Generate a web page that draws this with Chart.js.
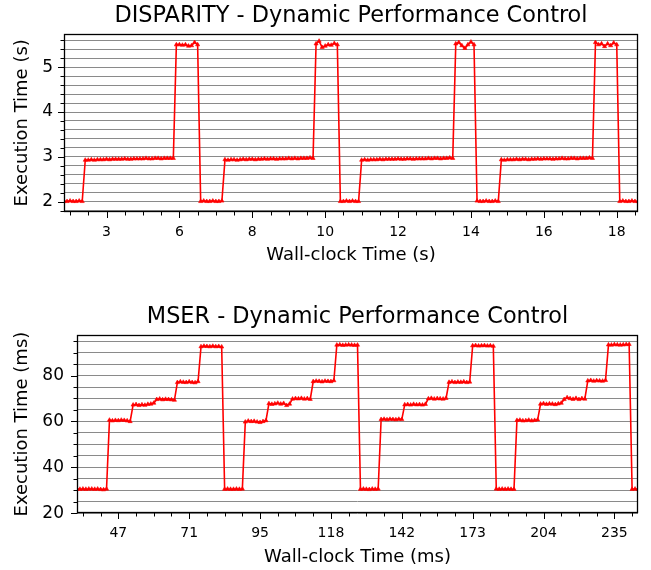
<!DOCTYPE html>
<html>
<head>
<meta charset="utf-8">
<script src="https://cdn.jsdelivr.net/npm/chart.js@4.4.0/dist/chart.umd.min.js"></script>
<style>
  body { margin: 0; background: #fff; }
  canvas { display: block; }
</style>
</head>
<body>
<canvas id="disparityChart" width="651" height="285"></canvas>
<canvas id="mserChart" width="651" height="285"></canvas>
<script>
// x is the sample index; the tick labels are the wall-clock times at those samples
const disparityTickIdx = [14, 38, 62, 86, 110, 134, 158, 182];
const disparityTickLabels = ['3', '6', '8', '10', '12', '14', '16', '18'];
const disparityYMajor = [2, 3, 4, 5];

const disparityTimes = [
    2.01, 2.01, 2.02, 2.01, 2.01, 2.02, 2.01,
    2.93, 2.93, 2.94, 2.93, 2.94, 2.94, 2.94, 2.95, 2.94, 2.95,
    2.95, 2.95, 2.95, 2.96, 2.95, 2.95, 2.96, 2.96, 2.96, 2.96,
    2.97, 2.96, 2.96, 2.97, 2.97, 2.96, 2.97, 2.97, 2.97, 2.97,
    5.50, 5.50, 5.49, 5.50, 5.47, 5.48, 5.55, 5.50,
    2.01, 2.02, 2.01, 2.01, 2.02, 2.01, 2.01, 2.02,
    2.94, 2.93, 2.94, 2.94, 2.93, 2.94, 2.95, 2.94, 2.95, 2.95,
    2.94, 2.95, 2.95, 2.96, 2.95, 2.96, 2.96, 2.95, 2.96, 2.96,
    2.96, 2.97, 2.96, 2.97, 2.96, 2.97, 2.97, 2.97, 2.98, 2.97,
    5.52, 5.58, 5.44, 5.47, 5.50, 5.49, 5.53, 5.50,
    2.01, 2.01, 2.02, 2.01, 2.02, 2.01, 2.01,
    2.93, 2.94, 2.93, 2.94, 2.94, 2.94, 2.95, 2.94, 2.95, 2.95,
    2.95, 2.95, 2.96, 2.95, 2.95, 2.96, 2.96, 2.95, 2.96, 2.96,
    2.96, 2.96, 2.97, 2.96, 2.97, 2.97, 2.96, 2.97, 2.97, 2.98, 2.97,
    5.52, 5.55, 5.48, 5.42, 5.50, 5.56, 5.50,
    2.02, 2.01, 2.01, 2.02, 2.01, 2.01, 2.02, 2.01,
    2.94, 2.93, 2.94, 2.94, 2.94, 2.95, 2.94, 2.95, 2.95, 2.94,
    2.95, 2.95, 2.96, 2.95, 2.96, 2.96, 2.96, 2.95, 2.96, 2.96,
    2.97, 2.96, 2.96, 2.97, 2.97, 2.96, 2.97, 2.97, 2.97, 2.98, 2.97,
    5.55, 5.50, 5.52, 5.46, 5.52, 5.48, 5.54, 5.50,
    2.01, 2.02, 2.01, 2.01, 2.02, 2.01, 2.01
];

const mserTickIdx = [14, 38, 62, 86, 110, 134, 158, 182];
const mserTickLabels = ['47', '71', '95', '118', '142', '173', '204', '235'];
const mserYMajor = [20, 40, 60, 80];

const mserTimes = [
    // period 1
    30.6, 30.5, 30.6, 30.5, 30.6, 30.6, 30.5, 30.6, 30.4, 30.3, 30.6,
    60.6, 60.3, 60.5, 60.4, 60.6, 60.5, 60.3, 60.0,
    67.2, 67.4, 67.0, 67.3, 67.1, 67.5, 67.6, 68.0,
    69.6, 69.8, 69.5, 69.7, 69.6, 69.5, 69.3,
    77.0, 77.3, 77.1, 77.0, 77.3, 77.0, 76.9, 77.4,
    92.6, 92.8, 92.7, 92.6, 92.8, 92.6, 92.7, 92.5,
    // period 2
    30.5, 30.6, 30.5, 30.5, 30.6, 30.5, 30.6,
    59.8, 60.2, 60.0, 60.1, 59.8, 59.6, 60.0, 60.4,
    67.8, 67.5, 67.7, 68.0, 67.6, 67.9, 67.0, 67.6,
    69.8, 70.0, 69.9, 70.1, 69.8, 70.0, 69.7,
    77.4, 77.6, 77.5, 77.3, 77.6, 77.5, 77.4, 77.8,
    93.3, 93.4, 93.2, 93.3, 93.4, 93.3, 93.2, 93.3,
    // period 3
    30.5, 30.6, 30.5, 30.4, 30.6, 30.5, 30.6,
    60.9, 61.0, 60.8, 61.0, 60.9, 60.8, 61.0, 60.9,
    67.3, 67.4, 67.2, 67.5, 67.3, 67.4, 67.2, 67.5,
    69.9, 70.1, 69.8, 70.0, 69.9, 69.8, 70.1,
    77.1, 77.3, 77.0, 77.2, 77.1, 77.3, 77.0, 77.2,
    93.0, 93.1, 92.9, 93.0, 93.1, 92.9, 93.0, 92.8,
    // period 4
    30.6, 30.5, 30.6, 30.5, 30.6, 30.5, 30.5,
    60.5, 60.6, 60.3, 60.4, 60.6, 60.3, 60.5, 60.7,
    67.6, 67.8, 67.5, 67.7, 67.6, 67.4, 67.7, 68.0,
    69.6, 70.4, 70.0, 69.7, 70.1, 69.6, 70.0, 69.8,
    77.7, 77.9, 77.6, 77.8, 77.7, 77.6, 77.9,
    93.4, 93.3, 93.5, 93.4, 93.3, 93.4, 93.5, 93.6,
    30.5, 30.6, 30.5
];

const FONT = 'DejaVu Sans';

// evenly spaced tick positions (rounded to avoid float noise)
function steps(start, stop, step) {
    const out = [];
    for (let v = start; v <= stop + step / 1000; v += step) out.push(Math.round(v * 1000) / 1000);
    return out;
}

// matplotlib-like frame with outward major/minor tick marks
const axesFrame = {
    id: 'axesFrame',
    afterDraw(chart, args, opts) {
        const { ctx, chartArea: a, scales: { x, y } } = chart;
        const L = Math.round(a.left) + 0.5, R = Math.round(a.right) - 0.5;
        const T = Math.round(a.top) + 0.5, B = Math.round(a.bottom) - 0.5;
        ctx.save();
        ctx.strokeStyle = '#000';
        ctx.lineWidth = 1;
        const line = (x0, y0, x1, y1) => { ctx.beginPath(); ctx.moveTo(x0, y0); ctx.lineTo(x1, y1); ctx.stroke(); };

        opts.xMinor.forEach(v => { const p = Math.round(x.getPixelForValue(v)) + 0.5; line(p, B, p, B + 4); });
        opts.xMajor.forEach(v => { const p = Math.round(x.getPixelForValue(v)) + 0.5; line(p, B, p, B + 6.5); });
        opts.yMinor.forEach(v => { const p = Math.round(y.getPixelForValue(v)) + 0.5; line(L, p, L - 4, p); });
        opts.yMajor.forEach(v => { const p = Math.round(y.getPixelForValue(v)) + 0.5; line(L, p, L - 6.5, p); });

        ctx.lineWidth = 1.3;
        ctx.strokeRect(L, T, R - L, B - T);
        ctx.restore();
    }
};

function makeChart(id, s) {
    const ctx = document.getElementById(id);
    return new Chart(ctx, {
        type: 'line',
        data: {
            datasets: [{
                data: s.values.map((v, i) => ({ x: i, y: v })),
                borderColor: '#ff0000',
                backgroundColor: '#ff0000',
                borderWidth: 1.6,
                pointStyle: 'triangle',
                pointRadius: 2.4,
                pointBorderWidth: 0.6,
                pointBorderColor: '#ff0000',
                pointBackgroundColor: '#ff0000',
                tension: 0
            }]
        },
        options: {
            responsive: false,
            animation: false,
            devicePixelRatio: 1,
            layout: { padding: { left: 0, right: 13, top: 0, bottom: 0 } },
            plugins: {
                legend: { display: false },
                tooltip: { enabled: false },
                title: {
                    display: true,
                    fullSize: false,
                    text: s.title,
                    color: '#000',
                    font: { family: FONT, size: 22.4, weight: 'normal' },
                    padding: s.titlePad
                },
                axesFrame: {
                    xMajor: s.xTicks,
                    xMinor: steps(2, s.xMax - 1, 6).filter(v => !s.xTicks.includes(v)),
                    yMajor: s.yMajor,
                    yMinor: s.yGrid.filter(v => !s.yMajor.includes(v))
                }
            },
            scales: {
                x: {
                    type: 'linear',
                    min: 0,
                    max: s.xMax,
                    grid: { display: false, drawTicks: false },
                    border: { display: false },
                    afterBuildTicks: sc => { sc.ticks = s.xTicks.map(v => ({ value: v })); },
                    afterFit: sc => { sc.height = s.xHeight; },
                    ticks: {
                        autoSkip: false,
                        maxRotation: 0,
                        padding: 12,
                        color: '#000',
                        font: { family: FONT, size: 14 },
                        callback: v => s.xLabels[s.xTicks.indexOf(v)]
                    },
                    title: {
                        display: true,
                        text: s.xTitle,
                        color: '#000',
                        font: { family: FONT, size: 18 },
                        padding: { top: 0, bottom: s.xTitlePad }
                    }
                },
                y: {
                    min: s.yMin,
                    max: s.yMax,
                    grid: { color: '#8a8a8a', lineWidth: 1, drawTicks: false },
                    border: { display: false },
                    afterBuildTicks: sc => { sc.ticks = s.yGrid.map(v => ({ value: v })); },
                    afterFit: sc => { sc.width = s.yWidth; },
                    ticks: {
                        autoSkip: false,
                        padding: s.yPad,
                        color: '#000',
                        font: { family: FONT, size: 17 },
                        callback: v => (s.yMajor.includes(v) ? String(v) : '')
                    },
                    title: {
                        display: true,
                        text: s.yTitle,
                        color: '#000',
                        font: { family: FONT, size: 18 },
                        padding: { top: 11.7, bottom: 0 }
                    }
                }
            }
        },
        plugins: [axesFrame]
    });
}

makeChart('disparityChart', {
    title: 'DISPARITY - Dynamic Performance Control',
    titlePad: { top: 2.5, bottom: 4.5 },
    values: disparityTimes,
    xMax: 189,
    xTicks: disparityTickIdx,
    xLabels: disparityTickLabels,
    xTitle: 'Wall-clock Time (s)',
    xHeight: 73.3,
    xTitlePad: 19,
    yMin: 1.78,
    yMax: 5.74,
    yMajor: disparityYMajor,
    yGrid: steps(1.8, 5.6, 0.2),
    yWidth: 64,
    yPad: 11,
    yTitle: 'Execution Time (s)'
});

makeChart('mserChart', {
    title: 'MSER - Dynamic Performance Control',
    titlePad: { top: 18.5, bottom: 4.5 },
    values: mserTimes,
    xMax: 190,
    xTicks: mserTickIdx,
    xLabels: mserTickLabels,
    xTitle: 'Wall-clock Time (ms)',
    xHeight: 56.7,
    xTitlePad: 2,
    yMin: 20,
    yMax: 97.7,
    yMajor: mserYMajor,
    yGrid: steps(20, 95, 5),
    yWidth: 77,
    yPad: 13,
    yTitle: 'Execution Time (ms)'
});
</script>
</body>
</html>
